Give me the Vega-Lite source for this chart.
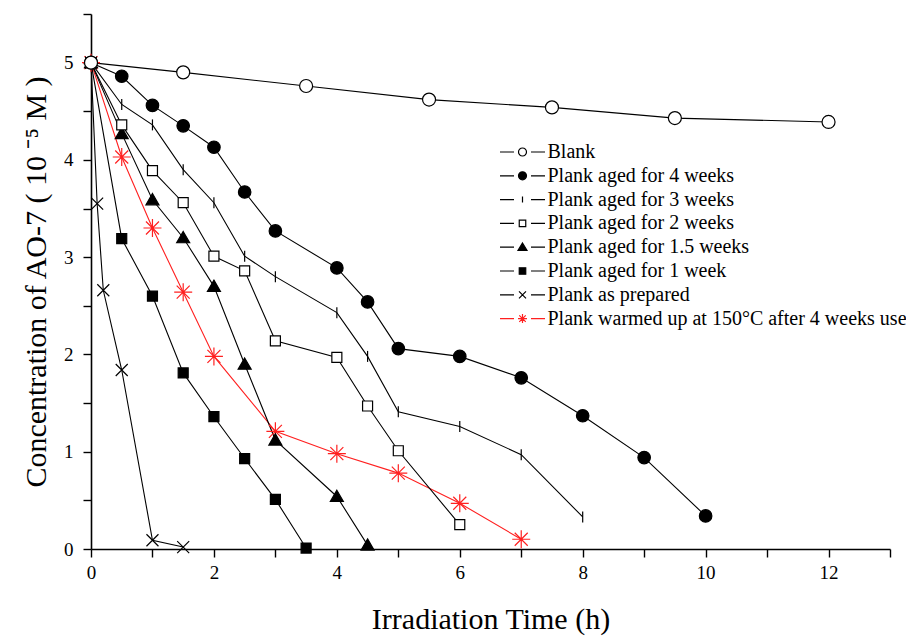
{
  "$schema": "https://vega.github.io/schema/vega-lite/v6.json",
  "width": 799,
  "height": 535,
  "autosize": {"type": "none"},
  "padding": {"left": 91, "top": 14, "right": 16, "bottom": 88},
  "background": "white",
  "config": {
    "view": {"stroke": null},
    "font": "Liberation Serif",
    "axis": {
      "grid": false,
      "labelFlush": false,
      "domainColor": "black",
      "domainWidth": 1.6,
      "tickColor": "black",
      "tickWidth": 1.4,
      "tickSize": 8,
      "labelFont": "Liberation Serif",
      "labelFontSize": 19,
      "labelColor": "black",
      "titleFont": "Liberation Serif",
      "titleFontSize": 30,
      "titleFontWeight": "normal",
      "titleColor": "black"
    }
  },
  "data": {
    "values": [
      {"series": "Plank warmed up at 150°C after 4 weeks use", "t": 0, "c": 5.0},
      {"series": "Plank warmed up at 150°C after 4 weeks use", "t": 0.5, "c": 4.03},
      {"series": "Plank warmed up at 150°C after 4 weeks use", "t": 1, "c": 3.30},
      {"series": "Plank warmed up at 150°C after 4 weeks use", "t": 1.5, "c": 2.64},
      {"series": "Plank warmed up at 150°C after 4 weeks use", "t": 2, "c": 1.98},
      {"series": "Plank warmed up at 150°C after 4 weeks use", "t": 3, "c": 1.21},
      {"series": "Plank warmed up at 150°C after 4 weeks use", "t": 4, "c": 0.98},
      {"series": "Plank warmed up at 150°C after 4 weeks use", "t": 5, "c": 0.78},
      {"series": "Plank warmed up at 150°C after 4 weeks use", "t": 6, "c": 0.47},
      {"series": "Plank warmed up at 150°C after 4 weeks use", "t": 7, "c": 0.10},
      {"series": "Plank as prepared", "t": 0, "c": 5.0},
      {"series": "Plank as prepared", "t": 0.1, "c": 3.55},
      {"series": "Plank as prepared", "t": 0.2, "c": 2.66},
      {"series": "Plank as prepared", "t": 0.5, "c": 1.84},
      {"series": "Plank as prepared", "t": 1, "c": 0.09},
      {"series": "Plank as prepared", "t": 1.5, "c": 0.02},
      {"series": "Plank aged for 1 week", "t": 0, "c": 5.0},
      {"series": "Plank aged for 1 week", "t": 0.5, "c": 3.19},
      {"series": "Plank aged for 1 week", "t": 1, "c": 2.60},
      {"series": "Plank aged for 1 week", "t": 1.5, "c": 1.81},
      {"series": "Plank aged for 1 week", "t": 2, "c": 1.36},
      {"series": "Plank aged for 1 week", "t": 2.5, "c": 0.93},
      {"series": "Plank aged for 1 week", "t": 3, "c": 0.51},
      {"series": "Plank aged for 1 week", "t": 3.5, "c": 0.01},
      {"series": "Plank aged for 1.5 weeks", "t": 0, "c": 5.0},
      {"series": "Plank aged for 1.5 weeks", "t": 0.5, "c": 4.27},
      {"series": "Plank aged for 1.5 weeks", "t": 1, "c": 3.59},
      {"series": "Plank aged for 1.5 weeks", "t": 1.5, "c": 3.20},
      {"series": "Plank aged for 1.5 weeks", "t": 2, "c": 2.70},
      {"series": "Plank aged for 1.5 weeks", "t": 2.5, "c": 1.90},
      {"series": "Plank aged for 1.5 weeks", "t": 3, "c": 1.12},
      {"series": "Plank aged for 1.5 weeks", "t": 4, "c": 0.54},
      {"series": "Plank aged for 1.5 weeks", "t": 4.5, "c": 0.04},
      {"series": "Plank aged for 2 weeks", "t": 0, "c": 5.0},
      {"series": "Plank aged for 2 weeks", "t": 0.5, "c": 4.36},
      {"series": "Plank aged for 2 weeks", "t": 1, "c": 3.89},
      {"series": "Plank aged for 2 weeks", "t": 1.5, "c": 3.56},
      {"series": "Plank aged for 2 weeks", "t": 2, "c": 3.01},
      {"series": "Plank aged for 2 weeks", "t": 2.5, "c": 2.86},
      {"series": "Plank aged for 2 weeks", "t": 3, "c": 2.14},
      {"series": "Plank aged for 2 weeks", "t": 4, "c": 1.97},
      {"series": "Plank aged for 2 weeks", "t": 4.5, "c": 1.47},
      {"series": "Plank aged for 2 weeks", "t": 5, "c": 1.01},
      {"series": "Plank aged for 2 weeks", "t": 6, "c": 0.25},
      {"series": "Plank aged for 3 weeks", "t": 0, "c": 5.0},
      {"series": "Plank aged for 3 weeks", "t": 0.5, "c": 4.57},
      {"series": "Plank aged for 3 weeks", "t": 1, "c": 4.36},
      {"series": "Plank aged for 3 weeks", "t": 1.5, "c": 3.90},
      {"series": "Plank aged for 3 weeks", "t": 2, "c": 3.56},
      {"series": "Plank aged for 3 weeks", "t": 2.5, "c": 3.01},
      {"series": "Plank aged for 3 weeks", "t": 3, "c": 2.80},
      {"series": "Plank aged for 3 weeks", "t": 4, "c": 2.43},
      {"series": "Plank aged for 3 weeks", "t": 4.5, "c": 1.98},
      {"series": "Plank aged for 3 weeks", "t": 5, "c": 1.41},
      {"series": "Plank aged for 3 weeks", "t": 6, "c": 1.26},
      {"series": "Plank aged for 3 weeks", "t": 7, "c": 0.97},
      {"series": "Plank aged for 3 weeks", "t": 8, "c": 0.33},
      {"series": "Plank aged for 4 weeks", "t": 0, "c": 5.0},
      {"series": "Plank aged for 4 weeks", "t": 0.5, "c": 4.86},
      {"series": "Plank aged for 4 weeks", "t": 1, "c": 4.56},
      {"series": "Plank aged for 4 weeks", "t": 1.5, "c": 4.35},
      {"series": "Plank aged for 4 weeks", "t": 2, "c": 4.13},
      {"series": "Plank aged for 4 weeks", "t": 2.5, "c": 3.67},
      {"series": "Plank aged for 4 weeks", "t": 3, "c": 3.27},
      {"series": "Plank aged for 4 weeks", "t": 4, "c": 2.89},
      {"series": "Plank aged for 4 weeks", "t": 4.5, "c": 2.54},
      {"series": "Plank aged for 4 weeks", "t": 5, "c": 2.06},
      {"series": "Plank aged for 4 weeks", "t": 6, "c": 1.98},
      {"series": "Plank aged for 4 weeks", "t": 7, "c": 1.76},
      {"series": "Plank aged for 4 weeks", "t": 8, "c": 1.37},
      {"series": "Plank aged for 4 weeks", "t": 9, "c": 0.94},
      {"series": "Plank aged for 4 weeks", "t": 10, "c": 0.34},
      {"series": "Blank", "t": 0, "c": 5.0},
      {"series": "Blank", "t": 1.5, "c": 4.90},
      {"series": "Blank", "t": 3.5, "c": 4.76},
      {"series": "Blank", "t": 5.5, "c": 4.62},
      {"series": "Blank", "t": 7.5, "c": 4.54},
      {"series": "Blank", "t": 9.5, "c": 4.43},
      {"series": "Blank", "t": 12, "c": 4.39}
    ]
  },
  "encoding": {
    "x": {
      "field": "t", "type": "quantitative",
      "scale": {"domain": [0, 13], "nice": false, "zero": false},
      "axis": {
        "title": "Irradiation Time (h)",
        "values": [0, 1, 2, 3, 4, 5, 6, 7, 8, 9, 10, 11, 12, 13],
        "format": "~g",
        "labelExpr": "datum.value % 2 === 0 && datum.value < 13 ? datum.label : ''",
        "labelPadding": 6,
        "titlePadding": 22
      }
    },
    "y": {
      "field": "c", "type": "quantitative",
      "scale": {"domain": [0, 5.5], "nice": false, "zero": false},
      "axis": {
        "title": "Concentration of AO-7 ( 10 ⁻⁵  M )",
        "values": [0, 0.5, 1, 1.5, 2, 2.5, 3, 3.5, 4, 4.5, 5, 5.5],
        "format": "~g",
        "labelExpr": "datum.value % 1 === 0 ? datum.label : ''",
        "labelPadding": 10,
        "titlePadding": 12
      }
    }
  },
  "layer": [
    {
      "mark": {"type": "line", "strokeWidth": 1.1},
      "encoding": {
        "detail": {"field": "series"},
        "stroke": {
          "field": "series", "type": "nominal", "legend": null,
          "scale": {
            "domain": ["Blank", "Plank aged for 4 weeks", "Plank aged for 3 weeks", "Plank aged for 2 weeks", "Plank aged for 1.5 weeks", "Plank aged for 1 week", "Plank as prepared", "Plank warmed up at 150°C after 4 weeks use"],
            "range": ["black", "black", "black", "black", "black", "black", "black", "#ff2020"]
          }
        }
      }
    },
    {
      "mark": {"type": "point", "filled": true, "size": 100, "opacity": 1, "strokeWidth": 1.2},
      "encoding": {
        "shape": {
          "field": "series", "type": "nominal", "legend": null,
          "scale": {
            "domain": ["Blank", "Plank aged for 4 weeks", "Plank aged for 3 weeks", "Plank aged for 2 weeks", "Plank aged for 1.5 weeks", "Plank aged for 1 week", "Plank as prepared", "Plank warmed up at 150°C after 4 weeks use"],
            "range": [
              "M-1.3,0A1.3,1.3,0,1,0,1.3,0A1.3,1.3,0,1,0,-1.3,0Z",
              "M-1.25,0A1.25,1.25,0,1,0,1.25,0A1.25,1.25,0,1,0,-1.25,0Z",
              "M0,-1.1L0,1.1",
              "M-1,-1L1,-1L1,1L-1,1Z",
              "M0,-1.25L1.3,1L-1.3,1Z",
              "M-1,-1L1,-1L1,1L-1,1Z",
              "M-1.2,-1.2L1.2,1.2M-1.2,1.2L1.2,-1.2",
              "M0,-1.8L0,1.8M-1.8,0L1.8,0M-1.3,-1.3L1.3,1.3M-1.3,1.3L1.3,-1.3"
            ]
          }
        },
        "fill": {
          "field": "series", "type": "nominal", "legend": null,
          "scale": {
            "domain": ["Blank", "Plank aged for 4 weeks", "Plank aged for 3 weeks", "Plank aged for 2 weeks", "Plank aged for 1.5 weeks", "Plank aged for 1 week", "Plank as prepared", "Plank warmed up at 150°C after 4 weeks use"],
            "range": ["white", "black", "transparent", "white", "black", "black", "transparent", "transparent"]
          }
        },
        "stroke": {
          "field": "series", "type": "nominal", "legend": null,
          "scale": {
            "domain": ["Blank", "Plank aged for 4 weeks", "Plank aged for 3 weeks", "Plank aged for 2 weeks", "Plank aged for 1.5 weeks", "Plank aged for 1 week", "Plank as prepared", "Plank warmed up at 150°C after 4 weeks use"],
            "range": ["black", "black", "black", "black", "black", "black", "black", "#ff2020"]
          }
        }
      }
    },
    {
      "mark": {"type": "point", "filled": true, "size": 100, "opacity": 0},
      "encoding": {
        "shape": {
          "field": "series", "type": "nominal",
          "legend": {"title": null, "orient": "none", "legendX": 404, "legendY": 128, "padding": 0, "symbolOpacity": 1, "symbolSize": 100, "symbolStrokeWidth": 1.2, "symbolFillColor": "transparent", "symbolStrokeColor": "black", "symbolOffset": 17.5, "labelOffset": 15, "labelFont": "Liberation Serif", "labelFontSize": 20, "labelColor": "black", "rowPadding": 3.8, "labelLimit": 600},
          "scale": {
            "domain": ["Blank", "Plank aged for 4 weeks", "Plank aged for 3 weeks", "Plank aged for 2 weeks", "Plank aged for 1.5 weeks", "Plank aged for 1 week", "Plank as prepared", "Plank warmed up at 150°C after 4 weeks use"],
            "range": [
              "M-4.5,0L-1.7,0M1.7,0L4.5,0M-0.8,0A0.8,0.8,0,1,0,0.8,0A0.8,0.8,0,1,0,-0.8,0Z",
              "M-4.5,0L-1.7,0M1.7,0L4.5,0M-0.8,0A0.8,0.8,0,1,0,0.8,0A0.8,0.8,0,1,0,-0.8,0Z",
              "M-4.5,0L-1.7,0M1.7,0L4.5,0M0,-0.6L0,0.6",
              "M-4.5,0L-1.7,0M1.7,0L4.5,0M-0.65,-0.65L0.65,-0.65L0.65,0.65L-0.65,0.65Z",
              "M-4.5,0L-1.7,0M1.7,0L4.5,0M0,-0.85L0.9,0.65L-0.9,0.65Z",
              "M-4.5,0L-1.7,0M1.7,0L4.5,0M-0.65,-0.65L0.65,-0.65L0.65,0.65L-0.65,0.65Z",
              "M-4.5,0L-1.7,0M1.7,0L4.5,0M-0.7,-0.7L0.7,0.7M-0.7,0.7L0.7,-0.7",
              "M-4.5,0L-1.7,0M1.7,0L4.5,0M0,-0.9L0,0.9M-0.9,0L0.9,0M-0.65,-0.65L0.65,0.65M-0.65,0.65L0.65,-0.65"
            ]
          }
        },
        "fill": {
          "field": "series", "type": "nominal",
          "legend": {"title": null, "orient": "none", "legendX": 404, "legendY": 128, "padding": 0, "symbolOpacity": 1, "symbolSize": 100, "symbolStrokeWidth": 1.2, "symbolFillColor": "transparent", "symbolStrokeColor": "black", "symbolOffset": 17.5, "labelOffset": 15, "labelFont": "Liberation Serif", "labelFontSize": 20, "labelColor": "black", "rowPadding": 3.8, "labelLimit": 600},
          "scale": {
            "domain": ["Blank", "Plank aged for 4 weeks", "Plank aged for 3 weeks", "Plank aged for 2 weeks", "Plank aged for 1.5 weeks", "Plank aged for 1 week", "Plank as prepared", "Plank warmed up at 150°C after 4 weeks use"],
            "range": ["white", "black", "transparent", "white", "black", "black", "transparent", "transparent"]
          }
        },
        "stroke": {
          "field": "series", "type": "nominal",
          "legend": {"title": null, "orient": "none", "legendX": 404, "legendY": 128, "padding": 0, "symbolOpacity": 1, "symbolSize": 100, "symbolStrokeWidth": 1.2, "symbolFillColor": "transparent", "symbolStrokeColor": "black", "symbolOffset": 17.5, "labelOffset": 15, "labelFont": "Liberation Serif", "labelFontSize": 20, "labelColor": "black", "rowPadding": 3.8, "labelLimit": 600},
          "scale": {
            "domain": ["Blank", "Plank aged for 4 weeks", "Plank aged for 3 weeks", "Plank aged for 2 weeks", "Plank aged for 1.5 weeks", "Plank aged for 1 week", "Plank as prepared", "Plank warmed up at 150°C after 4 weeks use"],
            "range": ["black", "black", "black", "black", "black", "black", "black", "#ff2020"]
          }
        }
      }
    }
  ],
  "resolve": {"scale": {"shape": "independent", "fill": "independent", "stroke": "independent"}}
}
